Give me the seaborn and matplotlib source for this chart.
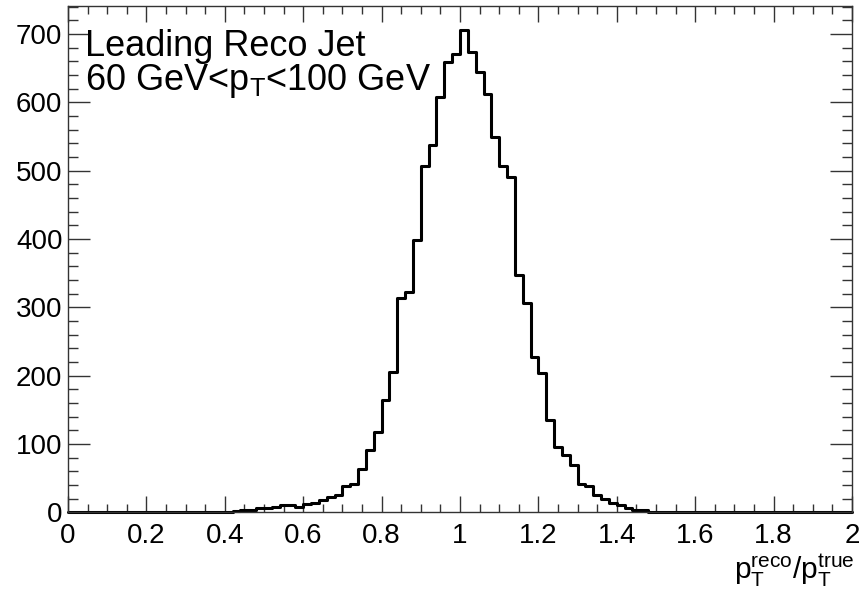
import numpy as np
import pandas as pd
import matplotlib
matplotlib.use("Agg")
import matplotlib.pyplot as plt
from matplotlib.ticker import MultipleLocator, FuncFormatter
import seaborn as sns

# ---- data (100 bins of width 0.02 from 0 to 2) ----
bin_edges = [round(0.02 * i, 4) for i in range(101)]
counts = [
    0, 0, 0, 0, 0, 0, 0, 0, 0, 0,          # 0.00-0.20
    0, 0, 0, 0, 0, 0, 0, 0, 0, 1,          # 0.20-0.40
    1, 2, 3, 4, 6, 6, 8, 10, 10, 8,        # 0.40-0.60
    12, 14, 18, 22, 25, 38, 42, 63, 91, 117,   # 0.60-0.80
    165, 206, 313, 323, 398, 507, 537, 608, 659, 671,  # 0.80-1.00
    706, 673, 644, 612, 549, 507, 490, 347, 307, 227,  # 1.00-1.20
    204, 135, 96, 84, 69, 42, 38, 25, 19, 14,  # 1.20-1.40
    11, 7, 4, 3, 1, 1, 0, 0, 0, 0,         # 1.40-1.60
    1, 0, 0, 0, 0, 0, 0, 0, 0, 0,          # 1.60-1.80
    0, 0, 0, 0, 0, 0, 0, 0, 0, 0,          # 1.80-2.00
]
bin_centers = [(bin_edges[i] + bin_edges[i + 1]) / 2 for i in range(100)]
label_lines = ["Leading Reco Jet", r"60 GeV<p$_{\mathrm{T}}$<100 GeV"]
x_title = r"p$_{\mathrm{T}}^{\mathrm{reco}}$/p$_{\mathrm{T}}^{\mathrm{true}}$"

df = pd.DataFrame({"ratio": bin_centers, "count": counts})

sns.set_theme(style="ticks")
plt.rcParams["font.family"] = ["Liberation Sans", "DejaVu Sans"]
plt.rcParams["mathtext.fontset"] = "custom"
plt.rcParams["mathtext.rm"] = "Liberation Sans"
plt.rcParams["mathtext.it"] = "Liberation Sans"
plt.rcParams["mathtext.bf"] = "Liberation Sans:bold"
plt.rcParams["text.color"] = "black"
plt.rcParams["axes.labelcolor"] = "black"
plt.rcParams["xtick.labelcolor"] = "black"
plt.rcParams["ytick.labelcolor"] = "black"

fig = plt.figure(figsize=(8.61, 5.90), dpi=100)
ax = fig.add_axes([68 / 861, (590 - 512.3) / 590, (852 - 68) / 861, (512.3 - 6) / 590])

sns.histplot(data=df, x="ratio", weights="count", bins=bin_edges,
             element="step", fill=False, color="black", linewidth=2.2, ax=ax)
for ln in ax.lines:
    ln.set_clip_on(False)

ax.set_xlim(0, 2)
ax.set_ylim(0, 741)

ax.xaxis.set_major_locator(MultipleLocator(0.2))
ax.xaxis.set_minor_locator(MultipleLocator(0.05))
ax.yaxis.set_major_locator(MultipleLocator(100))
ax.yaxis.set_minor_locator(MultipleLocator(20))
ax.xaxis.set_major_formatter(FuncFormatter(lambda v, p: f"{v:g}"))
ax.yaxis.set_major_formatter(FuncFormatter(lambda v, p: f"{v:g}"))

ax.tick_params(axis="both", which="both", direction="in", top=True, right=True,
               color="#333333", width=1.0, labelsize=20, labelcolor="black")
ax.tick_params(axis="x", which="major", length=11.5, pad=7.5)
ax.tick_params(axis="x", which="minor", length=6)
ax.tick_params(axis="y", which="major", length=16, pad=4)
ax.tick_params(axis="y", which="minor", length=7.5)
for s in ax.spines.values():
    s.set_color("#333333")
    s.set_linewidth(1.0)

ax.set_ylabel("")
ax.set_xlabel(x_title, fontsize=21.5, ha="right", va="top", color="black")
ax.xaxis.set_label_coords(1.003, -0.078)

ax.text(0.0217, 0.901, label_lines[0], transform=ax.transAxes, fontsize=26,
        ha="left", va="baseline", color="black")
ax.text(0.0217, 0.835, label_lines[1], transform=ax.transAxes, fontsize=26,
        ha="left", va="baseline", color="black")

fig.savefig("out.png", dpi=100, facecolor="white")
